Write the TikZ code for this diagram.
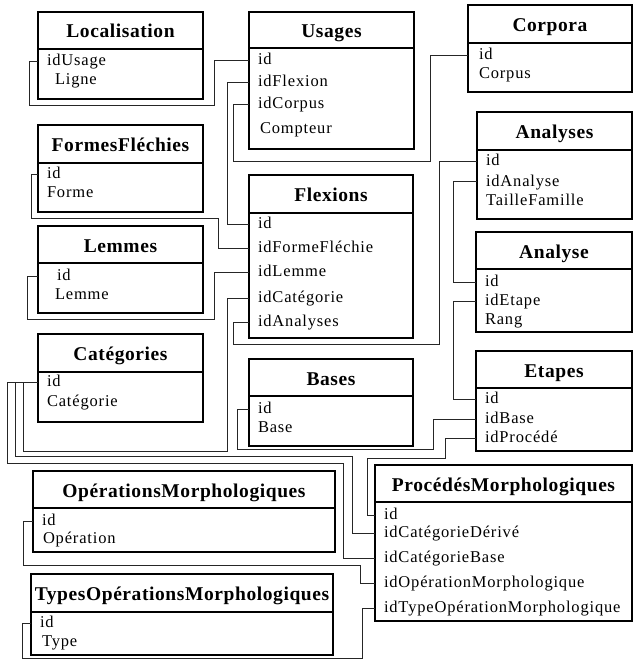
\documentclass[tikz,border=0pt]{standalone}
\usepackage{fontspec}
\setmainfont{Liberation Serif}
\newfontfamily\fieldfont[LetterSpace=5]{Liberation Serif}
\newfontfamily\headfont[LetterSpace=3]{Liberation Serif}
\usepackage{tikz}
\usetikzlibrary{positioning}

\begin{document}
\begin{tikzpicture}[x=1pt,y=-1pt,line width=1.1pt,
  head/.style={draw,anchor=north west,inner sep=0pt,outer sep=0pt,text height=15pt,text depth=0pt,font=\headfont\fontsize{19.5}{20}\selectfont\bfseries},
  body/.style={draw,inner sep=0pt,outer sep=0pt},
  field/.style={anchor=west,inner xsep=9pt,inner ysep=0pt,outer sep=0pt,text height=11pt,text depth=3pt,font=\fieldfont\fontsize{16.5}{18}\selectfont},
  link/.style={line width=1pt,black!85}]
\useasboundingbox (0,0) rectangle (633,660);

% tables, left column
\node[head,minimum width=165,minimum height=37] (loc) at (38,12) {Localisation};
\node[body,minimum width=165,minimum height=50,below=0pt of loc] (locB) {};
\node[field] (locUsage) at (38,62) {idUsage};
\node[field,inner xsep=17pt] (locLigne) at (38,81) {Ligne};

\node[head,minimum width=165,minimum height=38] (ff) at (38,125) {FormesFléchies};
\node[body,minimum width=165,minimum height=49,below=0pt of ff] (ffB) {};
\node[field] (ffId) at (38,175) {id};
\node[field] (ffForme) at (38,193) {Forme};

\node[head,minimum width=165,minimum height=37] (lm) at (38,226) {Lemmes};
\node[body,minimum width=165,minimum height=50,below=0pt of lm] (lmB) {};
\node[field,inner xsep=19pt] (lmId) at (38,276) {id};
\node[field,inner xsep=17pt] (lmLemme) at (38,295) {Lemme};

\node[head,minimum width=165,minimum height=38] (cat) at (38,334) {Catégories};
\node[body,minimum width=165,minimum height=50,below=0pt of cat] (catB) {};
\node[field] (catId) at (38,382) {id};
\node[field] (catCat) at (38,402) {Catégorie};

% tables, middle column
\node[head,minimum width=165,minimum height=36] (us) at (249,12) {Usages};
\node[body,minimum width=165,minimum height=101,below=0pt of us] (usB) {};
\node[field] (usId) at (249,61) {id};
\node[field] (usFlexion) at (249,83) {idFlexion};
\node[field] (usCorpus) at (249,105) {idCorpus};
\node[field,inner xsep=11pt] (usCompteur) at (249,130) {Compteur};

\node[head,minimum width=164,minimum height=38] (fl) at (249,175) {Flexions};
\node[body,minimum width=164,minimum height=125,below=0pt of fl] (flB) {};
\node[field] (flId) at (249,224) {id};
\node[field] (flForme) at (249,248) {idFormeFléchie};
\node[field] (flLemme) at (249,272) {idLemme};
\node[field] (flCat) at (249,298) {idCatégorie};
\node[field] (flAnalyses) at (249,322) {idAnalyses};

\node[head,minimum width=164,minimum height=37] (ba) at (249,359) {Bases};
\node[body,minimum width=164,minimum height=50,below=0pt of ba] (baB) {};
\node[field] (baId) at (249,409) {id};
\node[field] (baBase) at (249,428) {Base};

% tables, right column
\node[head,minimum width=164,minimum height=38] (co) at (468,5) {Corpora};
\node[body,minimum width=164,minimum height=49,below=0pt of co] (coB) {};
\node[field,inner xsep=11pt] (coId) at (468,56) {id};
\node[field,inner xsep=11pt] (coCorpus) at (468,75) {Corpus};

\node[head,minimum width=155,minimum height=38] (ans) at (477,112) {Analyses};
\node[body,minimum width=155,minimum height=69,below=0pt of ans] (ansB) {};
\node[field] (ansId) at (477,162) {id};
\node[field] (ansAnalyse) at (477,182) {idAnalyse};
\node[field] (ansTaille) at (477,201) {TailleFamille};

\node[head,minimum width=156,minimum height=37] (ana) at (476,232) {Analyse};
\node[body,minimum width=156,minimum height=63,below=0pt of ana] (anaB) {};
\node[field] (anaId) at (476,282) {id};
\node[field] (anaEtape) at (476,301) {idEtape};
\node[field] (anaRang) at (476,320) {Rang};

\node[head,minimum width=156,minimum height=37] (et) at (476,351) {Etapes};
\node[body,minimum width=156,minimum height=63,below=0pt of et] (etB) {};
\node[field] (etId) at (476,399) {id};
\node[field] (etBase) at (476,419) {idBase};
\node[field] (etProc) at (476,438) {idProcédé};

% tables, bottom
\node[head,minimum width=302,minimum height=37] (op) at (33,471) {OpérationsMorphologiques};
\node[body,minimum width=302,minimum height=44,below=0pt of op] (opB) {};
\node[field] (opId) at (33,521) {id};
\node[field,inner xsep=10pt] (opOp) at (33,539) {Opération};

\node[head,minimum width=302,minimum height=38] (ty) at (31,574) {TypesOpérationsMorphologiques};
\node[body,minimum width=302,minimum height=43,below=0pt of ty] (tyB) {};
\node[field] (tyId) at (31,623) {id};
\node[field,inner xsep=11pt] (tyType) at (31,642) {Type};

\node[head,minimum width=257,minimum height=37] (pm) at (375,465) {ProcédésMorphologiques};
\node[body,minimum width=257,minimum height=119,below=0pt of pm] (pmB) {};
\node[field] (pmId) at (375,515) {id};
\node[field] (pmCatDer) at (375,533) {idCatégorieDérivé};
\node[field] (pmCatBase) at (375,558) {idCatégorieBase};
\node[field] (pmOp) at (375,583) {idOpérationMorphologique};
\node[field] (pmType) at (375,608) {idTypeOpérationMorphologique};

% links
\draw[link] (locUsage.west) -- ++(-9,0) |- (214,106) |- (usId.west);
\draw[link] (usFlexion.west) -- ++(-22,0) |- (flId.west);
\draw[link] (usCorpus.west) -- ++(-16,0) |- (430,162) |- (coId.west);
\draw[link] (ffId.west) -- ++(-7,0) |- (218,218) |- (flForme.west);
\draw[link] (lmId.west) -- ++(-11,0) |- (214,319) |- (flLemme.west);
\draw[link] (catId.west) -- ++(-15,0) |- (227,451) |- (flCat.west);
\draw[link] (catId.west) -- ++(-23,0) |- (352,456) |- (pmCatDer.west);
\draw[link] (catId.west) -- ++(-31,0) |- (343,463) |- (pmCatBase.west);
\draw[link] (flAnalyses.west) -- ++(-16,0) |- (439,344) |- (ansId.west);
\draw[link] (ansAnalyse.west) -- ++(-24,0) |- (anaId.west);
\draw[link] (anaEtape.west) -- ++(-23,0) |- (etId.west);
\draw[link] (etBase.west) -- ++(-43,0) |- (237,449) |- (baId.west);
\draw[link] (etProc.west) -- ++(-31,0) |- (367,458) |- (pmId.west);
\draw[link] (opId.west) -- ++(-10,0) |- (360,565) |- (pmOp.west);
\draw[link] (tyId.west) -- ++(-9,0) |- (362,658) |- (pmType.west);
\end{tikzpicture}
\end{document}
